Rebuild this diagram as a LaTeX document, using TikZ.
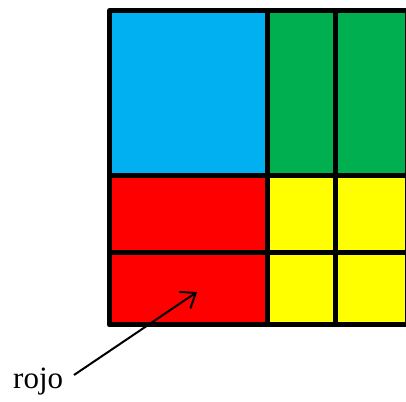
\documentclass[tikz,border=0pt]{standalone}
\usepackage{fontspec}
\setmainfont{Liberation Serif}
\usetikzlibrary{arrows.meta}
\definecolor{cblue}{HTML}{00B0F0}
\definecolor{cgreen}{HTML}{00B050}
\definecolor{cred}{HTML}{FF0000}
\definecolor{cyellow}{HTML}{FFFF00}
\begin{document}
\begin{tikzpicture}[x=1pt,y=1pt,
  cell/.style={draw=black,line width=5pt,line join=round},
  pointer/.style={draw=black,line width=2pt,-{Straight Barb[length=13pt,width=20pt,line width=2pt]}},
  lbl/.style={inner sep=0pt,font=\fontsize{31}{31}\selectfont}]
\useasboundingbox (0,0) rectangle (406,401);
% columns x: 109.5, 267.5, 335.8, 407 ; rows y (flipped): 390.5, 225, 148.5, 76
\fill[cblue]   (109.5,390.5) rectangle (267.5,225);
\fill[cgreen]  (267.5,390.5) rectangle (335.8,225);
\fill[cgreen]  (335.8,390.5) rectangle (407,225);
\fill[cred]    (109.5,225) rectangle (267.5,76);
\fill[cyellow] (267.5,225) rectangle (407,76);
\draw[cell] (109.5,390.5) rectangle (407,76);
\draw[cell] (267.5,390.5) -- (267.5,76);
\draw[cell] (335.8,390.5) -- (335.8,76);
\draw[cell] (109.5,225) -- (407,225);
\draw[cell] (109.5,148.5) -- (407,148.5);
\node[lbl,anchor=base west] (rojo) at (13,13) {rojo};
\coordinate (tail) at (74,26);
\coordinate (tip) at (197,109);
\draw[pointer] (tail) -- (tip);
\end{tikzpicture}
\end{document}
